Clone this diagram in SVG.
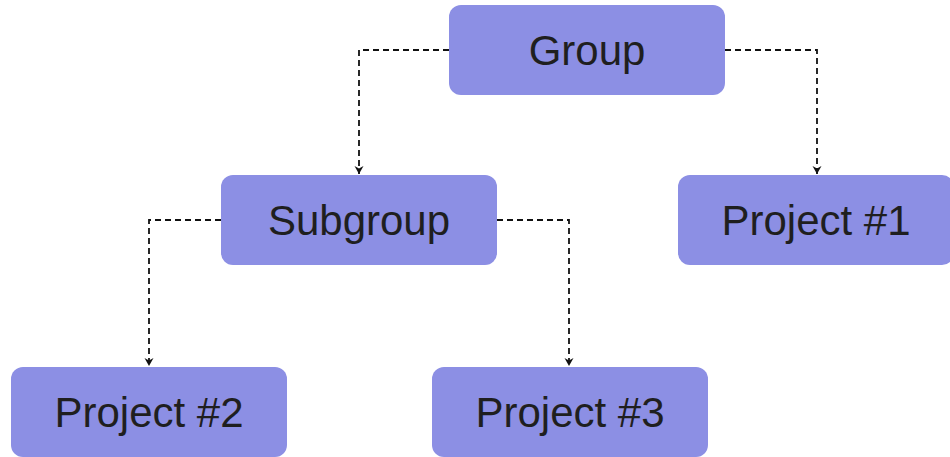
<svg xmlns="http://www.w3.org/2000/svg" width="950" height="457" viewBox="0 0 950 457">
<defs>
<marker id="arr" markerWidth="12" markerHeight="12" refX="9" refY="6" orient="auto" markerUnits="userSpaceOnUse">
<path d="M1,1.5 L9,6 L1,10.5 L3.5,6 Z" fill="#111"/>
</marker>
<style>
.node rect{fill:#8C8FE4;}
.node text{font-family:"Liberation Sans",Arial,sans-serif;font-size:42px;fill:#1f1f1f;text-anchor:middle;}
.conn path{fill:none;stroke:#111;stroke-width:1.8;stroke-dasharray:6 4;marker-end:url(#arr);}
</style>
</defs>
<rect width="950" height="457" fill="#fff"/>
<g class="conn">
<path d="M449,50 H359 V174"/>
<path d="M725,50 H817 V174"/>
<path d="M221,220 H149 V366"/>
<path d="M497,220 H569 V366"/>
</g>
<g id="group" class="node"><rect x="449" y="5" width="276" height="90" rx="12"/><text x="587" y="65">Group</text></g>
<g id="subgroup" class="node"><rect x="221" y="175" width="276" height="90" rx="12"/><text x="359" y="235">Subgroup</text></g>
<g id="project1" class="node"><rect x="678" y="175" width="276" height="90" rx="12"/><text x="816" y="235">Project #1</text></g>
<g id="project2" class="node"><rect x="11" y="367" width="276" height="90" rx="12"/><text x="149" y="427">Project #2</text></g>
<g id="project3" class="node"><rect x="432" y="367" width="276" height="90" rx="12"/><text x="570" y="427">Project #3</text></g>
</svg>
